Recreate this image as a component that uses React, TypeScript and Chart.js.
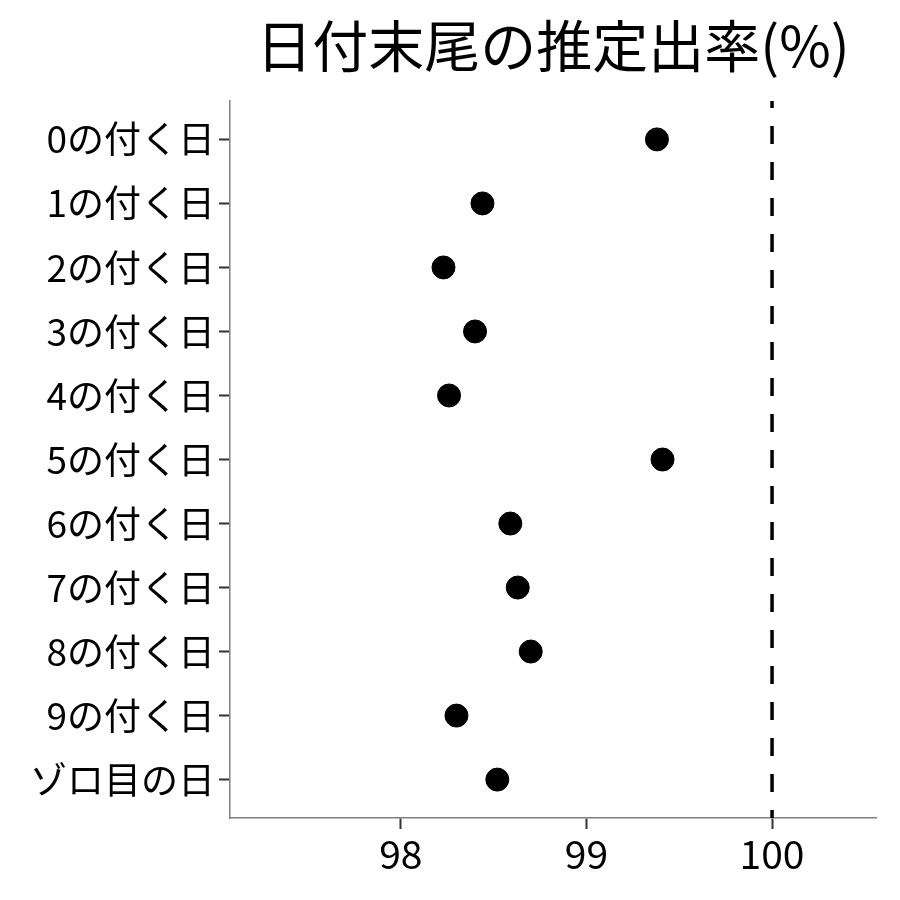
import { useEffect, useRef } from 'react';
import Chart from 'chart.js/auto';

const categories = ['0の付く日', '1の付く日', '2の付く日', '3の付く日', '4の付く日', '5の付く日', '6の付く日', '7の付く日', '8の付く日', '9の付く日', 'ゾロ目の日'];
const rates = [99.38, 98.44, 98.23, 98.4, 98.26, 99.41, 98.59, 98.63, 98.7, 98.3, 98.52];
const xTicks = [98, 99, 100];
const refValue = 100;
const titleText = '日付末尾の推定出率(%)';

const FONT = "'Noto Sans CJK JP', 'Noto Sans', sans-serif";

// タイトルはプロット領域の中央に置く (ggplot 風)
const plotTitle = {
  id: 'plotTitle',
  afterDraw(chart: Chart) {
    const { ctx, chartArea } = chart;
    ctx.save();
    ctx.font = `56px ${FONT}`;
    ctx.fillStyle = '#000';
    ctx.textAlign = 'center';
    ctx.textBaseline = 'middle';
    ctx.fillText(titleText, (chartArea.left + chartArea.right) / 2, 46);
    ctx.restore();
  },
};

const App = () => {
  const canvasRef = useRef<HTMLCanvasElement>(null);

  useEffect(() => {
    if (!canvasRef.current) return;

    const chart = new Chart(canvasRef.current, {
      type: 'scatter',
      data: {
        datasets: [
          {
            type: 'line',
            data: [
              { x: refValue, y: -0.6 },
              { x: refValue, y: categories.length - 0.4 },
            ],
            borderColor: '#000',
            borderWidth: 3.5,
            borderDash: [18, 18],
            borderDashOffset: 11,
            pointRadius: 0,
            fill: false,
          },
          {
            data: rates.map((v, i) => ({ x: v, y: i })),
            backgroundColor: '#000',
            borderColor: '#000',
            pointRadius: 11.5,
            pointHoverRadius: 11.5,
          },
        ],
      },
      options: {
        responsive: true,
        maintainAspectRatio: false,
        animation: false,
        layout: { padding: { top: 101, right: 24, left: 0, bottom: 0 } },
        plugins: {
          legend: { display: false },
          tooltip: { enabled: false },
          title: { display: false },
        },
        scales: {
          x: {
            type: 'linear',
            min: 97.08,
            max: 100.56,
            afterBuildTicks: (scale) => {
              scale.ticks = xTicks.map((v) => ({ value: v }));
            },
            afterFit: (scale) => {
              scale.height = 82;
            },
            grid: {
              drawOnChartArea: false,
              tickLength: 11,
              tickColor: '#333',
              tickWidth: 2,
            },
            border: { color: '#7f7f7f', width: 1.5 },
            ticks: {
              color: '#000',
              padding: 2,
              font: { family: FONT, size: 39 },
            },
          },
          y: {
            type: 'linear',
            reverse: true,
            min: -0.6,
            max: categories.length - 0.4,
            afterBuildTicks: (scale) => {
              scale.ticks = categories.map((_, i) => ({ value: i }));
            },
            afterFit: (scale) => {
              scale.width = 230;
            },
            grid: {
              drawOnChartArea: false,
              tickLength: 11,
              tickColor: '#333',
              tickWidth: 2,
            },
            border: { color: '#7f7f7f', width: 1.5 },
            ticks: {
              color: '#000',
              padding: 4,
              font: { family: FONT, size: 37 },
              callback: (v) => categories[Number(v)] ?? '',
            },
          },
        },
      },
      plugins: [plotTitle],
    });

    return () => {
      chart.destroy();
    };
  }, []);

  return (
    <div style={{ position: 'absolute', top: 0, left: 0, width: 900, height: 900, background: '#fff' }}>
      <canvas ref={canvasRef} />
    </div>
  );
};

export default App;
